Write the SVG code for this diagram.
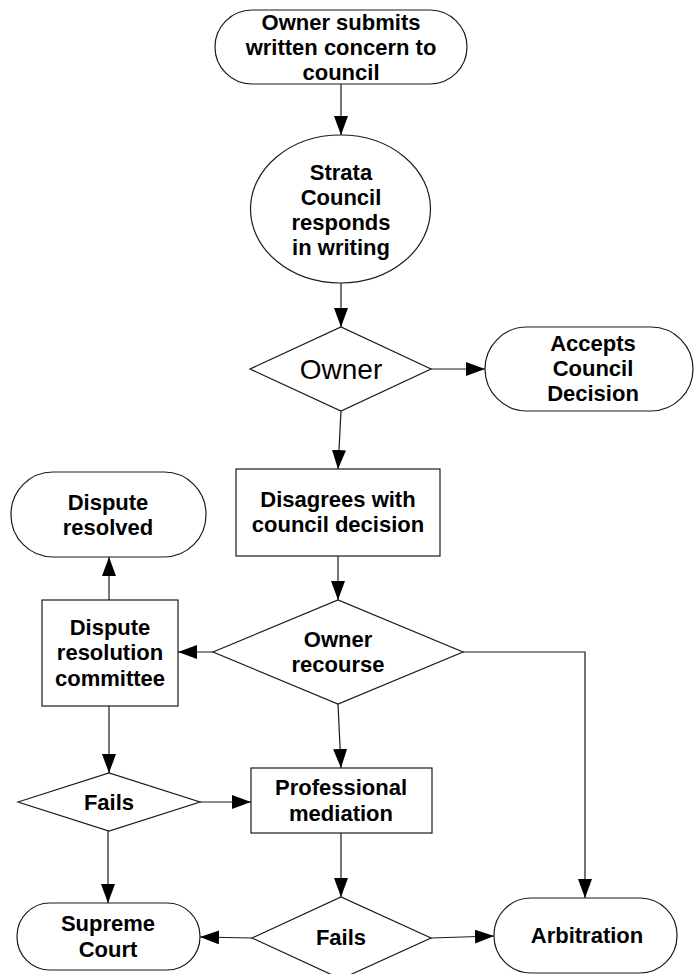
<svg xmlns="http://www.w3.org/2000/svg" width="694" height="974" viewBox="0 0 694 974">
<style>
.s{fill:#fff;stroke:#1a1a1a;stroke-width:1.2}
.c{fill:none;stroke:#1a1a1a;stroke-width:1.2}
.t{font-family:"Liberation Sans",Arial,sans-serif;font-size:22px;font-weight:bold;fill:#000;text-anchor:middle}
.r{font-family:"Liberation Sans",Arial,sans-serif;font-size:28px;fill:#000;text-anchor:middle}
</style>
<defs>
<marker id="a" markerUnits="userSpaceOnUse" markerWidth="20" markerHeight="14" refX="19" refY="7" orient="auto">
<path d="M0,0 L19,7 L0,14 z" fill="#000"/>
</marker>
</defs>
<rect width="694" height="974" fill="#fff"/>
<g id="connectors" class="c" marker-end="url(#a)">
<path d="M341,84 L341,135"/>
<path d="M341,283 L341,327"/>
<path d="M431,369 L485,369"/>
<path d="M341,411 L338,469"/>
<path d="M338,556 L338,600"/>
<path d="M213,652 L178,652"/>
<path d="M109,600 L109,557"/>
<path d="M109,706 L109,773"/>
<path d="M338,704 L341,768"/>
<path d="M463,652 L585,652 L585,898"/>
<path d="M200,802 L251,802"/>
<path d="M108,831 L108,903"/>
<path d="M341,833 L341,897"/>
<path d="M252,938 L200,937"/>
<path d="M431,938 L494,936"/>
</g>
<g id="n1">
<rect class="s" x="215" y="10" width="252" height="74" rx="37" ry="37"/>
<text class="t" x="341" y="30">Owner submits</text>
<text class="t" x="341" y="55">written concern to</text>
<text class="t" x="341" y="80">council</text>
</g>
<g id="n2">
<ellipse class="s" cx="340.5" cy="209" rx="90" ry="74"/>
<text class="t" x="341" y="180">Strata</text>
<text class="t" x="341" y="205">Council</text>
<text class="t" x="341" y="230">responds</text>
<text class="t" x="341" y="255">in writing</text>
</g>
<g id="n3">
<path class="s" d="M250,369 L341,327 L431,369 L341,411 Z"/>
<text class="r" x="341" y="379">Owner</text>
</g>
<g id="n4">
<rect class="s" x="485" y="327" width="208" height="84" rx="42" ry="42"/>
<text class="t" x="593" y="351">Accepts</text>
<text class="t" x="593" y="376">Council</text>
<text class="t" x="593" y="401">Decision</text>
</g>
<g id="n5">
<rect class="s" x="236" y="469" width="204" height="87"/>
<text class="t" x="338" y="507">Disagrees with</text>
<text class="t" x="338" y="532">council decision</text>
</g>
<g id="n6">
<rect class="s" x="11" y="472" width="195" height="85" rx="42" ry="42"/>
<text class="t" x="108" y="510">Dispute</text>
<text class="t" x="108" y="535">resolved</text>
</g>
<g id="n7">
<path class="s" d="M213,652 L338,600 L463,652 L338,704 Z"/>
<text class="t" x="338" y="647">Owner</text>
<text class="t" x="338" y="672">recourse</text>
</g>
<g id="n8">
<rect class="s" x="42" y="600" width="136" height="106"/>
<text class="t" x="110" y="635">Dispute</text>
<text class="t" x="110" y="660">resolution</text>
<text class="t" x="110" y="686">committee</text>
</g>
<g id="n9">
<path class="s" d="M18,802 L109,773 L200,802 L109,831 Z"/>
<text class="t" x="109" y="810">Fails</text>
</g>
<g id="n10">
<rect class="s" x="251" y="768" width="181" height="65"/>
<text class="t" x="341" y="795">Professional</text>
<text class="t" x="341" y="821">mediation</text>
</g>
<g id="n11">
<path class="s" d="M252,938 L341,897 L431,938 L341,979 Z"/>
<text class="t" x="341" y="945">Fails</text>
</g>
<g id="n12">
<rect class="s" x="17" y="903" width="183" height="67" rx="33" ry="33"/>
<text class="t" x="108" y="931">Supreme</text>
<text class="t" x="108" y="957">Court</text>
</g>
<g id="n13">
<rect class="s" x="494" y="898" width="183" height="75" rx="37" ry="37"/>
<text class="t" x="587" y="943">Arbitration</text>
</g>
</svg>
